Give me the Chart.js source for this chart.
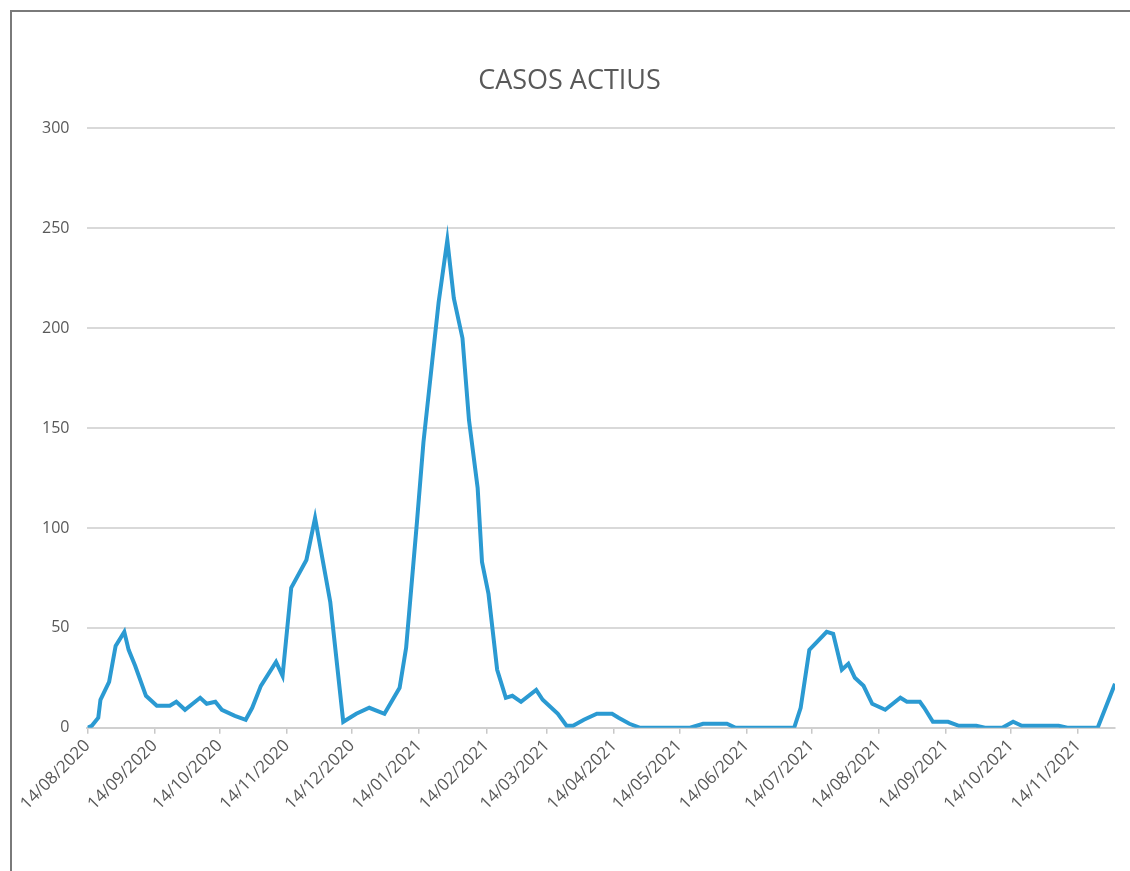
<!DOCTYPE html>
<html>
<head>
<meta charset="utf-8">
<script src="https://cdn.jsdelivr.net/npm/chart.js@4.4.1/dist/chart.umd.min.js"></script>
<style>
  html, body { margin: 0; padding: 0; background: #fff; }
  #wrap { position: relative; width: 1130px; height: 871px; overflow: hidden; }
  #marc { position: absolute; left: 10px; top: 10px; width: 1200px; height: 900px;
          border-left: 2px solid #7a7a7a; border-top: 2px solid #7a7a7a; }
  canvas { position: absolute; left: 0; top: 0; }
</style>
</head>
<body>
<div id="wrap">
  <div id="marc"></div>
  <canvas id="casosChart" width="1130" height="871"></canvas>
</div>
<script>
// dades llegides del gràfic
const dates = [
  '14/08/2020','16/08/2020','19/08/2020','20/08/2020','24/08/2020','27/08/2020','31/08/2020',
  '02/09/2020','05/09/2020','10/09/2020','15/09/2020','21/09/2020','24/09/2020','28/09/2020',
  '05/10/2020','08/10/2020','12/10/2020','15/10/2020','21/10/2020','26/10/2020','29/10/2020',
  '02/11/2020','09/11/2020','12/11/2020','16/11/2020','23/11/2020','27/11/2020',
  '04/12/2020','10/12/2020','16/12/2020','22/12/2020','29/12/2020',
  '05/01/2021','08/01/2021','13/01/2021','16/01/2021','20/01/2021','23/01/2021','27/01/2021','30/01/2021',
  '03/02/2021','06/02/2021','10/02/2021','12/02/2021','15/02/2021','19/02/2021','23/02/2021','26/02/2021',
  '02/03/2021','09/03/2021','12/03/2021','15/03/2021','19/03/2021','23/03/2021','26/03/2021','31/03/2021',
  '06/04/2021','13/04/2021','16/04/2021','21/04/2021','26/04/2021',
  '19/05/2021','25/05/2021','05/06/2021','09/06/2021',
  '06/07/2021','09/07/2021','13/07/2021','21/07/2021','24/07/2021','28/07/2021','31/07/2021',
  '03/08/2021','07/08/2021','11/08/2021','17/08/2021','24/08/2021','27/08/2021',
  '02/09/2021','04/09/2021','08/09/2021','15/09/2021','20/09/2021','28/09/2021',
  '02/10/2021','10/10/2021','15/10/2021','19/10/2021',
  '05/11/2021','09/11/2021','23/11/2021','01/12/2021'
];

const casosActius = [
  0, 1, 5, 14, 23, 41, 48,
  39, 31, 16, 11, 11, 13, 9,
  15, 12, 13, 9, 6, 4, 10,
  21, 33, 26, 70, 84, 105,
  63, 3, 7, 10, 7,
  20, 40, 103, 143, 183, 213, 244, 215,
  195, 154, 120, 83, 67, 29, 15, 16,
  13, 19, 14, 11, 7, 1, 1, 4,
  7, 7, 5, 2, 0,
  0, 2, 2, 0,
  0, 10, 39, 48, 47, 29, 32,
  25, 21, 12, 9, 15, 13,
  13, 10, 3, 3, 1, 1,
  0, 0, 3, 1,
  1, 0, 0, 22
];

const tickLabels = [
  '14/08/2020','14/09/2020','14/10/2020','14/11/2020','14/12/2020',
  '14/01/2021','14/02/2021','14/03/2021','14/04/2021','14/05/2021',
  '14/06/2021','14/07/2021','14/08/2021','14/09/2021','14/10/2021','14/11/2021'
];

const yTicks = [0, 50, 100, 150, 200, 250, 300];

// dd/mm/yyyy -> dies des del primer dia
function toDay(s) {
  let p = s.split('/');
  let t = Date.UTC(+p[2], +p[1] - 1, +p[0]);
  let p0 = dates[0].split('/');
  let t0 = Date.UTC(+p0[2], +p0[1] - 1, +p0[0]);
  return Math.round((t - t0) / 86400000);
}

const points = dates.map((d, i) => ({ x: toDay(d), y: casosActius[i] }));
const tickDays = tickLabels.map(toDay);

const gris = '#595959';
Chart.defaults.font.family = '"Open Sans", sans-serif';

const ctx = document.getElementById('casosChart').getContext('2d');
const casosChart = new Chart(ctx, {
  type: 'line',
  data: {
    datasets: [{
      label: 'Casos actius',
      data: points,
      borderColor: '#2b9ad2',
      borderWidth: 4,
      pointRadius: 0,
      tension: 0,
      fill: false
    }]
  },
  options: {
    responsive: false,
    animation: false,
    layout: { padding: { left: 24, right: 15, top: 0, bottom: 55 } },
    plugins: {
      legend: { display: false },
      tooltip: { enabled: false },
      title: {
        display: true,
        text: 'CASOS ACTIUS',
        color: gris,
        font: { size: 27, weight: 'normal' },
        padding: { top: 65, bottom: 31 }
      }
    },
    scales: {
      x: {
        type: 'linear',
        min: 0,
        max: toDay(dates[dates.length - 1]),
        afterBuildTicks: function(scale) {
          scale.ticks = tickDays.map(v => ({ value: v }));
        },
        ticks: {
          autoSkip: false,
          minRotation: 45,
          maxRotation: 45,
          padding: 2,
          color: gris,
          font: { size: 17 },
          callback: function(value) {
            let i = tickDays.indexOf(value);
            return i >= 0 ? tickLabels[i] : '';
          }
        },
        grid: { drawOnChartArea: false, drawTicks: true, tickLength: 6, color: '#c8c8c8', lineWidth: 1.5 },
        border: { display: true, color: '#d0d0d0', width: 2 }
      },
      y: {
        min: 0,
        max: 300,
        afterBuildTicks: function(scale) {
          scale.ticks = yTicks.map(v => ({ value: v }));
        },
        ticks: { color: gris, font: { size: 16 }, padding: 18 },
        grid: { color: '#d9d9d9', lineWidth: 2, drawTicks: false },
        border: { display: false }
      }
    }
  }
});
</script>
</body>
</html>
